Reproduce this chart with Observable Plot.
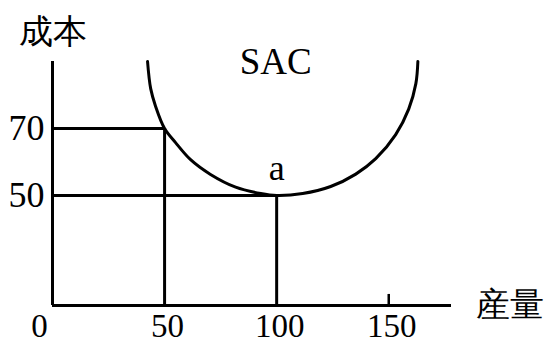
<!DOCTYPE html>
<html>
<head>
<meta charset="utf-8">
<script src="https://cdn.jsdelivr.net/npm/d3@7"></script>
<script src="https://cdn.jsdelivr.net/npm/@observablehq/plot@0.6"></script>
<style>
  html, body { margin: 0; padding: 0; background: #fff; }
  svg text { font-family: "Liberation Serif", "DejaVu Serif", serif; }
</style>
</head>
<body>
<div id="chart"></div>
<script>
// ---- data ----
const xTicks = [0, 50, 100, 150];
const yTicks = [50, 70];
const xMax = 178;          // end of the quantity axis
const yMin = 17.2;         // cost value where the quantity axis sits
const yMax = 90;           // top of the cost axis
const guideQ = [50, 100];  // quantities with guide lines
const guideC = [70, 50];   // matching SAC costs
const markQ = [150];       // quantity with a small tick only
// SAC curve points (quantity, cost)
const sacQ = [42.4, 43.8, 46.0, 50.0, 54.9, 61.6, 70.5, 81.7, 92.9, 100, 111.6, 124.1, 135.3, 144.2, 153.1, 158.9, 162.1, 163.0];
const sacC = [90.0, 81.9, 76.6, 70.0, 65.8, 60.7, 56.3, 52.5, 50.6, 50.0, 50.6, 52.7, 56.4, 61.0, 68.2, 75.8, 83.4, 90.0];
const curveLabel = "SAC";
const pointLabel = "a";
const yTitle = "成本";
const xTitle = "産量";

const sac = sacQ.map((q, i) => ({q, c: sacC[i]}));
const guides = guideQ.map((q, i) => ({q, c: guideC[i]}));

const cjk = '"Noto Sans CJK TC", "Noto Sans CJK SC", sans-serif';
const serif = '"Liberation Serif", serif';

const chart = Plot.plot({
  width: 549,
  height: 345,
  marginLeft: 52,
  marginRight: 98,
  marginTop: 61,
  marginBottom: 40,
  x: {domain: [0, xMax], axis: null},
  y: {domain: [yMin, yMax], axis: null},
  marks: [
    // axes lines
    Plot.ruleX([0], {y1: yMin, y2: yMax, stroke: "#000", strokeWidth: 3}),
    Plot.ruleY([yMin], {x1: 0, x2: xMax, stroke: "#000", strokeWidth: 3}),
    // guide lines
    Plot.ruleY(guides, {y: "c", x1: 0, x2: "q", stroke: "#000", strokeWidth: 3}),
    Plot.ruleX(guides, {x: "q", y1: yMin, y2: "c", stroke: "#000", strokeWidth: 3}),
    // small tick at 150
    Plot.ruleX(markQ, {x: d => d, y1: yMin, y2: yMin + 3.3, stroke: "#000", strokeWidth: 2.5}),
    // SAC curve
    Plot.line(sac, {x: "q", y: "c", curve: "catmull-rom", stroke: "#000", strokeWidth: 3}),
    // y tick labels
    Plot.text(yTicks, {x: 0, y: d => d, text: d => String(d), textAnchor: "end", dx: -8, fontSize: 36, fontFamily: serif, fill: "#000"}),
    // x tick labels
    Plot.text(xTicks.filter(d => d !== 0), {x: d => d, y: yMin, text: d => String(d), dy: 21, dx: 3, fontSize: 33, fontFamily: serif, fill: "#000"}),
    Plot.text(xTicks.filter(d => d === 0), {x: d => d, y: yMin, text: d => String(d), dy: 21, dx: -13, fontSize: 33, fontFamily: serif, fill: "#000"}),
    // curve label
    Plot.text([curveLabel], {x: 100, y: yMax, text: d => d, dy: 1, dx: -1, fontSize: 37, fontFamily: serif, fill: "#000"}),
    // point label
    Plot.text([pointLabel], {x: guideQ[1], y: guideC[1], text: d => d, dy: -27, fontSize: 36, fontFamily: serif, fill: "#000"}),
    // axis titles
    Plot.text([yTitle], {x: 0, y: yMax, text: d => d, dy: -29, fontSize: 34, fontFamily: cjk, fontWeight: 300, fill: "#000"}),
    Plot.text([xTitle], {x: xMax, y: yMin, text: d => d, textAnchor: "start", dx: 24, dy: 0, fontSize: 34, fontFamily: cjk, fontWeight: 300, fill: "#000"})
  ]
});
document.getElementById("chart").appendChild(chart);
</script>
</body>
</html>
